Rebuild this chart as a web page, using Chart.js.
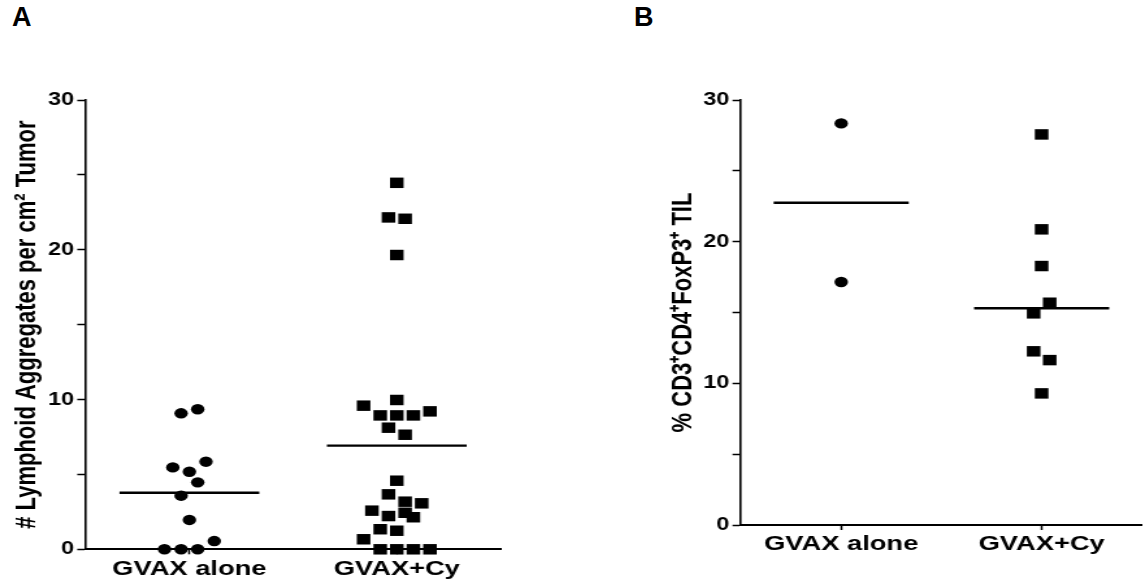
<!DOCTYPE html>
<html>
<head>
<meta charset="utf-8">
<script src="https://cdn.jsdelivr.net/npm/chart.js@4.4.1/dist/chart.umd.min.js"></script>
<style>
html, body { margin: 0; padding: 0; background: #fff; overflow: hidden; width: 1143px; height: 585px; }
/* the original figure is stretched sideways, so each panel is drawn narrow and widened */
.panel { position: absolute; top: 0; transform: scaleX(1.3); transform-origin: 0 0; }
#panelA { left: 0; }
#panelB { left: 560px; }
.letter { position: absolute; font: bold 27px "Liberation Sans", Arial, sans-serif; color: #000; }
</style>
</head>
<body>
<div class="letter" style="left:12px; top:2px">A</div>
<div class="letter" style="left:634px; top:2px">B</div>
<div class="panel" id="panelA"><canvas id="chartA" width="431" height="585"></canvas></div>
<div class="panel" id="panelB"><canvas id="chartB" width="455" height="585"></canvas></div>
<script>
const categories = ['GVAX alone', 'GVAX+Cy'];
const yTickLabels = [0, 10, 20, 30];

// panel A: lymphoid aggregates per cm2
const aAlone = [9.08, 9.35, 5.47, 5.18, 5.85, 4.47, 3.58, 1.96, 0.55, 0, 0, 0];
const aAloneJitter = [-0.04, 0.04, -0.08, 0, 0.08, 0.04, -0.04, 0, 0.12, -0.12, -0.04, 0.04];
const aCy = [24.47, 22.16, 22.07, 19.65, 9.59, 9.97, 8.94, 8.94, 8.94, 9.21, 8.12, 7.65,
             4.58, 3.67, 3.18, 3.07, 2.58, 2.22, 2.44, 2.14, 1.34, 1.24, 0.67, 0, 0, 0, 0];
const aCyJitter = [0, -0.04, 0.04, 0, -0.16, 0, -0.08, 0, 0.08, 0.16, -0.04, 0.04,
                   0, -0.04, 0.04, 0.12, -0.12, -0.04, 0.04, 0.08, -0.08, 0, -0.16, -0.08, 0, 0.08, 0.16];
const aCenter = [3.78, 6.92];

// panel B: % CD3+CD4+FoxP3+ TIL
const bAlone = [28.35, 17.15];
const bAloneJitter = [0, 0];
const bCy = [27.57, 20.87, 18.28, 15.69, 14.94, 12.26, 11.64, 9.29];
const bCyJitter = [0, 0, 0, 0.04, -0.04, -0.04, 0.04, 0];
const bCenter = [22.75, 15.3];

const titleA = '# Lymphoid Aggregates per cm\u00B2 Tumor';
const titleB = '% CD3\u207ACD4\u207AFoxP3\u207A TIL';

const FONT = "'Liberation Sans', Arial, sans-serif";
const HALF = 0.337;

function pts(values, jitter, cat) {
    return values.map((v, i) => ({ x: cat + jitter[i], y: v }));
}

function centerLine(v, cat) {
    return [{ x: cat - HALF, y: v }, { x: cat + HALF, y: v }];
}

function makePanel(id, title, alone, aloneJ, cy, cyJ, center, lay) {
    const ctx = document.getElementById(id).getContext('2d');
    return new Chart(ctx, {
        type: 'scatter',
        data: {
            datasets: [
                { data: pts(alone, aloneJ, 1), pointStyle: 'circle', pointRadius: 5.2,
                  backgroundColor: '#000', borderWidth: 0, clip: false },
                { data: pts(cy, cyJ, 2), pointStyle: 'rect', pointRadius: 7.4,
                  backgroundColor: '#000', borderWidth: 0, clip: false },
                { data: centerLine(center[0], 1), showLine: true, borderColor: '#000',
                  borderWidth: 2.4, pointRadius: 0, clip: false },
                { data: centerLine(center[1], 2), showLine: true, borderColor: '#000',
                  borderWidth: 2.4, pointRadius: 0, clip: false }
            ]
        },
        options: {
            responsive: false,
            animation: false,
            layout: { padding: { left: lay.left, right: lay.right, top: lay.top, bottom: 0 } },
            plugins: { legend: { display: false }, tooltip: { enabled: false } },
            scales: {
                x: {
                    type: 'linear', min: 0.5, max: 2.5,
                    afterBuildTicks: s => { s.ticks = [{ value: 1 }, { value: 2 }]; },
                    afterFit: s => { s.height = lay.xHeight; },
                    ticks: {
                        callback: v => categories[v - 1],
                        font: { family: FONT, size: 21, weight: 'bold' },
                        color: '#000', padding: 2, autoSkip: false, maxRotation: 0
                    },
                    grid: { drawOnChartArea: false, tickLength: 5, tickWidth: 1.5, tickColor: '#000' },
                    border: { color: '#000', width: 2 }
                },
                y: {
                    min: 0, max: 30,
                    afterFit: s => { s.width = lay.yWidth; },
                    ticks: {
                        stepSize: 5,
                        callback: v => yTickLabels.includes(v) ? v : '',
                        font: { family: FONT, size: 18, weight: 'bold' },
                        color: '#000', padding: 2.5
                    },
                    grid: { drawOnChartArea: false, tickLength: 6.5, tickWidth: 1.5, tickColor: '#000' },
                    border: { color: '#000', width: 1.6 },
                    title: {
                        display: true, text: title, color: '#000',
                        font: { family: FONT, size: 22, weight: 'bold' },
                        padding: { top: lay.titlePad, bottom: 0 }
                    }
                }
            }
        }
    });
}

makePanel('chartA', titleA, aAlone, aAloneJitter, aCy, aCyJitter, aCenter,
    { left: 0, right: 46, top: 100, xHeight: 35.7, yWidth: 65.9, titlePad: 7.8 });
makePanel('chartB', titleB, bAlone, bAloneJitter, bCy, bCyJitter, bCenter,
    { left: 70, right: 1.2, top: 100, xHeight: 60, yWidth: 69.2, titlePad: 12.2 });
</script>
</body>
</html>
